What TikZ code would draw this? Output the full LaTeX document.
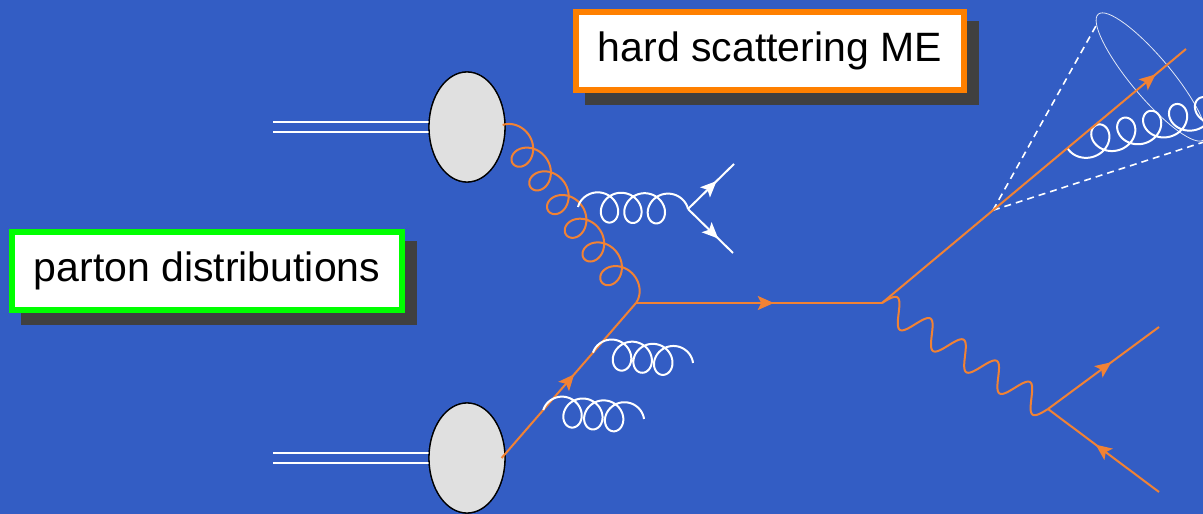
\documentclass[tikz,border=0pt]{standalone}
\usepackage{fontspec}
\setmainfont{Liberation Sans}
\usetikzlibrary{shapes.geometric,decorations.markings,arrows.meta,calc}

\definecolor{bgblue}{RGB}{51,93,196}
\definecolor{lineorange}{RGB}{241,130,52}
\definecolor{boxorange}{RGB}{255,128,0}
\definecolor{boxgreen}{RGB}{0,255,0}
\definecolor{shadowgray}{RGB}{64,64,64}
\definecolor{blobgray}{RGB}{224,224,224}

\pgfdeclarelayer{backdrop}
\pgfdeclarelayer{shade}
\pgfsetlayers{backdrop,shade,main}

% curly gluon between two points: style, start, end, loops, amplitude (sign picks the side), loop reach
\newcommand\gluonpath[6]{%
  \pgfmathsetmacro\gluonend{(2*#4+1)*180}%
  \draw[#1] let \p1=(#2), \p2=(#3),
      \n1={100*veclen((\x2-\x1)/100,(\y2-\y1)/100)}, \n2={atan2(\y2-\y1,\x2-\x1)},
      \n3={(\n1-2*#6)/((2*#4+1)*pi)} in
    [shift={(\p1)}, rotate=\n2]
    plot[domain=0:\gluonend, samples=420, variable=\t]
      ({\n3*(\t/57.29578) - #6*cos(\t) + #6}, {#5*sin(\t)});
}
% wavy photon between two points: style, start, end, periods, amplitude
\newcommand\photonpath[5]{%
  \draw[#1] let \p1=(#2), \p2=(#3),
      \n1={100*veclen((\x2-\x1)/100,(\y2-\y1)/100)}, \n2={atan2(\y2-\y1,\x2-\x1)} in
    [shift={(\p1)}, rotate=\n2]
    plot[domain=0:\n1, samples=260, variable=\t]
      ({\t}, {#5*sin((\t/\n1)*#4*360)});
}

\tikzset{
  labelbox/.style={line width=6pt, fill=white, inner sep=0pt, outer sep=0pt,
    font=\fontsize{41}{49}\selectfont, text=black},
  blob/.style={ellipse, draw=black, line width=1.3pt, fill=blobgray,
    minimum width=76pt, minimum height=110pt, inner sep=0pt},
  beam/.style={white, line width=1.5pt},
  quark/.style={lineorange, line width=2pt},
  softline/.style={white, line width=2pt, line join=round},
  gluonline/.style={lineorange, line width=2pt, line join=round},
  conedash/.style={white, line width=1.6pt, dash pattern=on 7pt off 5pt},
  arrowat/.style={postaction={decorate}, decoration={markings,
    mark=at position #1 with {\arrow{Stealth[length=16pt,width=14pt,inset=3.5pt]}}}},
}

\begin{document}
\begin{tikzpicture}[x=1pt,y=1pt]
\begin{pgfonlayer}{backdrop}
  \fill[bgblue] (0,0) rectangle (1203,514);
\end{pgfonlayer}
\useasboundingbox (0,0) rectangle (1203,514);
\clip (0,0) rectangle (1203,514);

% labels with drop shadows
\node[labelbox, draw=boxgreen, minimum width=390pt, minimum height=78pt] (pd) at (207,243) {parton distributions};
\node[labelbox, draw=boxorange, minimum width=388pt, minimum height=78pt] (me) at (770,463) {hard scattering ME};
\begin{pgfonlayer}{shade}
  \fill[shadowgray] ($(pd.south west)+(9,-15)$) rectangle ($(pd.north east)+(15,-9)$);
  \fill[shadowgray] ($(me.south west)+(9,-15)$) rectangle ($(me.north east)+(15,-9)$);
\end{pgfonlayer}

% incoming hadrons
\coordinate (bTa) at (273,392);
\coordinate (bTb) at (273,382);
\coordinate (bBa) at (273,61);
\coordinate (bBb) at (273,51);
\node[blob] (eT) at (467,387) {};
\node[blob] (eB) at (467,56) {};
\draw[beam] (bTa) -- ($(bTa -| eT.west)+(1,0)$);
\draw[beam] (bTb) -- ($(bTb -| eT.west)+(1,0)$);
\draw[beam] (bBa) -- ($(bBa -| eB.west)+(1,0)$);
\draw[beam] (bBb) -- ($(bBb -| eB.west)+(1,0)$);
\node[blob] at (eT) {};
\node[blob] at (eB) {};

% vertices and line ends
\coordinate (gT) at ($(eT.east)+(-3,2)$);
\coordinate (qB) at ($(eB.east)+(-4,0)$);
\coordinate (v1) at (636,211);
\coordinate (v2) at (882,211);
\coordinate (jet) at (1186,465);
\coordinate (apex) at ($(v2)!0.365!(jet)$);
\coordinate (coneL) at (1097,490);
\coordinate (coneR) at (1210,374);
\coordinate (cone) at (1151,437);
\coordinate (v3) at (1048,105);
\coordinate (lepA) at (1159,187);
\coordinate (lepB) at (1159,22);
\coordinate (g1s) at (578,307);
\coordinate (w) at (688,305);
\coordinate (wA) at (734,350);
\coordinate (wB) at (733,261);
\coordinate (g2s) at ($(qB)!0.68!(v1)$);
\coordinate (g2e) at (693,151);
\coordinate (g3s) at ($(qB)!0.31!(v1)$);
\coordinate (g3e) at (644,95);
\coordinate (g4s) at ($(v2)!0.61!(jet)$);
\coordinate (g4e) at (1239,411);

% initial state
\gluonpath{gluonline}{gT}{v1}{6}{15}{15}
\draw[quark, arrowat=0.54] (qB) -- (v1);
\draw[quark, arrowat=0.56] (v1) -- (v2);

% initial-state radiation
\gluonpath{softline}{g1s}{w}{3}{15}{14}
\gluonpath{softline}{g2s}{g2e}{3}{15}{14}
\gluonpath{softline}{g3s}{g3e}{3}{15}{14}
\draw[softline, arrowat=0.62] (w) -- (wA);
\draw[softline, arrowat=0.67] (w) -- (wB);

% outgoing jet with its cone
\draw[conedash] (apex) -- (coneL);
\draw[conedash] (apex) -- (coneR);
\draw[white, opacity=0.85, line width=0.8pt, rotate around={-50:(cone)}] (cone) ellipse [x radius=82, y radius=20];
\gluonpath{softline}{g4s}{g4e}{5}{-15}{15}
\draw[quark, arrowat=0.9] (v2) -- (jet);

% boson decaying to a lepton pair
\photonpath{gluonline}{v2}{v3}{5}{13}
\draw[quark, arrowat=0.57] (v3) -- (lepA);
\draw[quark, arrowat=0.57] (lepB) -- (v3);
\end{tikzpicture}
\end{document}
